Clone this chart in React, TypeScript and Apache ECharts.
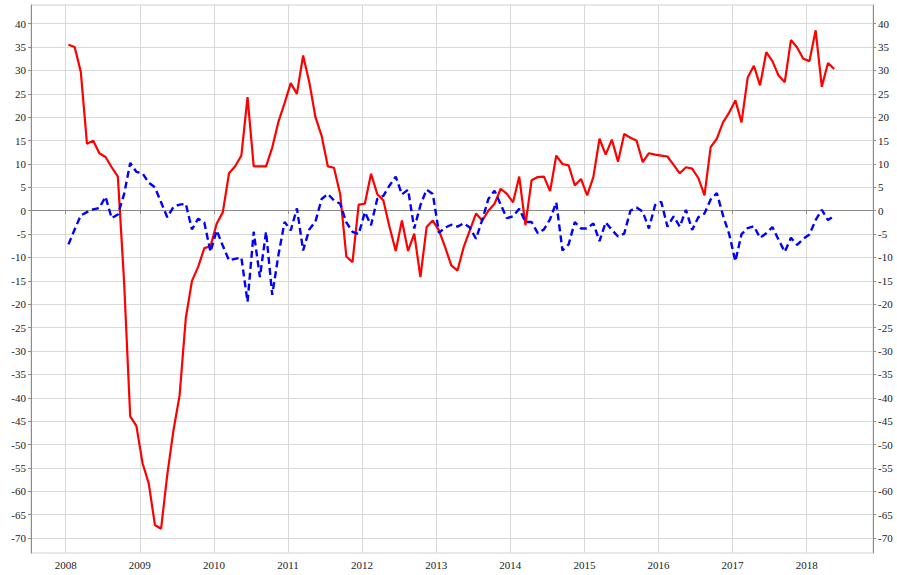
import React, { useEffect, useRef } from "react";
import * as echarts from "echarts";

const startYear = 2008;
const monthOffset = 0.45;

const redValues = [
  35.5, 35, 29.7, 14.3, 15, 12.3, 11.5, 9.3, 7.3, -15,
  -44, -46, -54, -58.3, -67.2, -68, -56.5, -47, -39.5, -23,
  -15, -12, -8, -7.6, -2.8, -0.3, 8, 9.5, 11.8, 24.3,
  9.5, 9.5, 9.5, 13.5, 19, 23, 27.3, 25, 33.2, 27.5,
  20, 16, 9.5, 9.2, 3.6, -9.8, -11, 1.3, 1.5, 7.9,
  3.6, 2.2, -3.5, -8.6, -2.1, -8.6, -4.9, -14.2, -3.5, -2.1,
  -4.2, -7.8, -11.7, -12.8, -7.8, -4.2, -0.6, -2.1, 0, 1.5,
  4.7, 3.6, 1.8, 7.3, -3.1, 6.5, 7.2, 7.3, 4.2, 11.8,
  10, 9.7, 5.4, 6.8, 3.3, 7.2, 15.4, 12, 15.2, 10.5,
  16.4, 15.6, 15, 10.4, 12.3, 12, 11.8, 11.6, 9.8, 8,
  9.3, 9, 7, 3.3, 13.6, 15.4, 18.9, 21, 23.6, 18.9,
  28.5, 31, 26.8, 33.9, 32, 28.9, 27.5, 36.5, 34.9, 32.5,
  32, 38.6, 26.5, 31.6, 30.3,
];

const blueValues = [
  -7.2, -4, -1, -0.3, 0.3, 0.6, 3, -1.6, -0.8, 3.5,
  10.2, 8.3, 8, 6, 5, 1.8, -1.4, 0.8, 1.3, 1.5,
  -4, -1.7, -2.5, -8.8, -4.2, -7.5, -10.6, -10.3, -10, -19.5,
  -4.5, -14.2, -4.5, -18, -9.5, -2.4, -4.2, 0.5, -8.5, -4,
  -2.3, 2.5, 3.6, 2.2, 1.5, -2.5, -4.5, -5, -0.3, -3.1,
  2.5, 3.2, 5.4, 7.3, 3.5, 4.5, -3.8, 1.2, 4.5, 3.6,
  -4.7, -3.6, -3, -3.4, -2.7, -3.6, -6, -2, 2.5, 4.3,
  1.3, -1.6, -1.2, 0.4, -2.4, -2.4, -4.8, -4, -1.8, 1.8,
  -8.5, -7.2, -2.4, -3.8, -3.8, -2.7, -6.5, -2.5, -4.1, -5.5,
  -4.9, 0, 0.7, -0.2, -3.8, 1.2, 1.9, -3.4, -1.2, -3.4,
  0.2, -4.1, -1.4, -0.6, 2.4, 3.8, -1, -5, -10.8, -5,
  -3.7, -3.3, -5.8, -4.8, -3.5, -6.2, -8.8, -5.8, -7.3, -6,
  -5.1, -2, 0.2, -2, -1.1,
];

const yearTicks = [2008, 2009, 2010, 2011, 2012, 2013, 2014, 2015, 2016, 2017, 2018];
const yTicks = [-70, -65, -60, -55, -50, -45, -40, -35, -30, -25, -20, -15, -10, -5, 0, 5, 10, 15, 20, 25, 30, 35, 40];

const toPoints = (vals: number[]) =>
  vals.map((v, i) => [startYear + (i + monthOffset) / 12, v]);

const FONT = "'Liberation Serif', 'DejaVu Serif', serif";

export default function App() {
  const ref = useRef<HTMLDivElement>(null);
  useEffect(() => {
    if (!ref.current) return;
    const chart = echarts.init(ref.current, null, { renderer: "svg" });
    const yAxisBase = (position: "left" | "right") => ({
      type: "value",
      position,
      min: -73.2,
      max: 44.0,
      axisLine: { show: true, lineStyle: { color: "#8c8c8c", width: 1 } },
      axisTick: {
        show: true,
        customValues: yTicks,
        length: 3,
        lineStyle: { color: "#8c8c8c" },
      },
      axisLabel: {
        customValues: yTicks,
        color: "#222",
        fontFamily: FONT,
        fontSize: 11,
        margin: 5,
      },
      splitLine: { show: position === "left", lineStyle: { color: "#d9d9d9", width: 1 } },
    });
    chart.setOption({
      animation: false,
      backgroundColor: "#fff",
      grid: {
        left: 31,
        right: 24,
        top: 5,
        bottom: 22,
        show: true,
        borderColor: "#d0d0d0",
        borderWidth: 1,
        containLabel: false,
      },
      xAxis: {
        type: "value",
        min: 2007.532,
        max: 2018.895,
        axisLine: { show: true, lineStyle: { color: "#8c8c8c", width: 1 } },
        axisTick: {
          show: true,
          customValues: yearTicks,
          length: 3,
          lineStyle: { color: "#8c8c8c" },
        },
        axisLabel: {
          customValues: yearTicks,
          color: "#222",
          fontFamily: FONT,
          fontSize: 11,
          margin: 6,
          formatter: (v: number) => String(Math.round(v)),
        },
        splitLine: { show: true, lineStyle: { color: "#d9d9d9", width: 1 } },
      },
      yAxis: [yAxisBase("left"), yAxisBase("right")],
      series: [
        {
          type: "line",
          data: toPoints(redValues),
          showSymbol: false,
          lineStyle: { color: "#ff0000", width: 2.2 },
          itemStyle: { color: "#ff0000" },
          z: 3,
        },
        {
          type: "line",
          data: toPoints(blueValues),
          showSymbol: false,
          lineStyle: { color: "#0000ff", width: 2.4, type: [7, 4] },
          itemStyle: { color: "#0000ff" },
          z: 4,
        },
      ],
    });
    return () => chart.dispose();
  }, []);
  return (
    <div
      ref={ref}
      style={{ position: "fixed", left: 0, top: 0, width: 897, height: 575 }}
    />
  );
}
